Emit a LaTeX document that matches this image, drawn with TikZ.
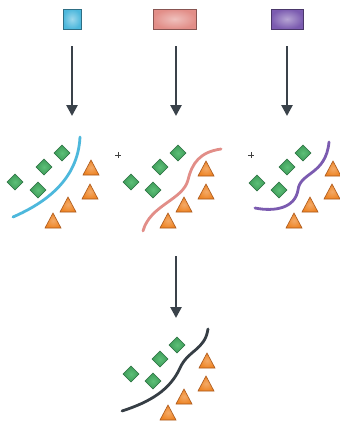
\documentclass[tikz,border=0pt]{standalone}
\usetikzlibrary{arrows.meta}
\definecolor{arrgray}{HTML}{3A424A}
\definecolor{bluec}{HTML}{4DB8DC}
\definecolor{pinkc}{HTML}{E28E88}
\definecolor{purpc}{HTML}{7B5BB0}
\definecolor{darkc}{HTML}{363E45}
\definecolor{greenf}{HTML}{3D9C58}
\definecolor{greeni}{HTML}{5DBF78}
\definecolor{greene}{HTML}{2A6E40}
\definecolor{orangef}{HTML}{EE8526}
\definecolor{orangee}{HTML}{A8561A}
\tikzset{
  box/.style={draw=#1!60!black, line width=0.8pt, inner sep=0pt, outer color=#1, inner color=#1!55!white},
  arr/.style={draw=arrgray, line width=2.6pt, -{Triangle[length=11pt,width=11pt]}},
  sep/.style={line width=2.8pt, line cap=round},
  dia/.pic={\draw[draw=greene, line width=0.6pt, inner color=greeni, outer color=greenf]
     (-8,0)--(0,-8)--(8,0)--(0,8)--cycle;},
  tri/.pic={\draw[draw=orangee, line width=0.6pt, inner color=orangef!70!white, outer color=orangef]
     (-8,7)--(8,7)--(0,-8)--cycle;},
  plusmark/.pic={\draw[line width=0.6pt, draw=black!75] (-3,0)--(3,0) (0,-3)--(0,3);}
}
\begin{document}
\begin{tikzpicture}[x=1pt,y=-1pt]
\useasboundingbox[fill=white] (0,0) rectangle (340,421);
% top boxes
\node[box=bluec, minimum width=18pt, minimum height=20pt] (b1) at (72,19) {};
\node[box=pinkc, minimum width=43pt, minimum height=20pt] (b2) at (174.5,19) {};
\node[box=purpc, minimum width=32pt, minimum height=20pt] (b3) at (287,19) {};
% arrows
\coordinate (a1s) at (72,46);  \coordinate (a1e) at (72,116);
\coordinate (a2s) at (176,46); \coordinate (a2e) at (176,116);
\coordinate (a3s) at (287,46); \coordinate (a3e) at (287,116);
\coordinate (a4s) at (176,256); \coordinate (a4e) at (176,318);
\draw[arr] (a1s) -- (a1e);
\draw[arr] (a2s) -- (a2e);
\draw[arr] (a3s) -- (a3e);
\draw[arr] (a4s) -- (a4e);
% plus marks
\pic at (118,155) {plusmark};
\pic at (251,155) {plusmark};
% panel 1
\draw[sep, bluec] (13,217) .. controls (45,203) and (78,180) .. (80,137);
\pic at (15,182) {dia}; \pic at (38,190) {dia}; \pic at (44,167) {dia}; \pic at (62,153) {dia};
\pic at (91,168) {tri}; \pic at (90,192) {tri}; \pic at (68,205) {tri}; \pic at (53,221) {tri};
% panel 2
\draw[sep, pinkc] (143,231) .. controls (150,205) and (183,200) .. (188,180) .. controls (192,163) and (200,152) .. (221,149);
\pic at (131,182) {dia}; \pic at (153,190) {dia}; \pic at (160,167) {dia}; \pic at (178,153) {dia};
\pic at (206,169) {tri}; \pic at (206,192) {tri}; \pic at (184,205) {tri}; \pic at (168,221) {tri};
% panel 3
\draw[sep, purpc] (255,208) .. controls (275,212) and (295,208) .. (298,190) .. controls (300,172) and (326,175) .. (329,142);
\pic at (257,183) {dia}; \pic at (279,190) {dia}; \pic at (287,167) {dia}; \pic at (303,153) {dia};
\pic at (333,169) {tri}; \pic at (332,192) {tri}; \pic at (310,205) {tri}; \pic at (294,221) {tri};
% bottom panel
\draw[sep, darkc] (122,411) .. controls (150,402) and (170,390) .. (180,368) .. controls (188,350) and (205,350) .. (208,329);
\pic at (131,374) {dia}; \pic at (153,381) {dia}; \pic at (160,359) {dia}; \pic at (177,345) {dia};
\pic at (207,361) {tri}; \pic at (206,384) {tri}; \pic at (184,397) {tri}; \pic at (168,413) {tri};
\end{tikzpicture}
\end{document}
